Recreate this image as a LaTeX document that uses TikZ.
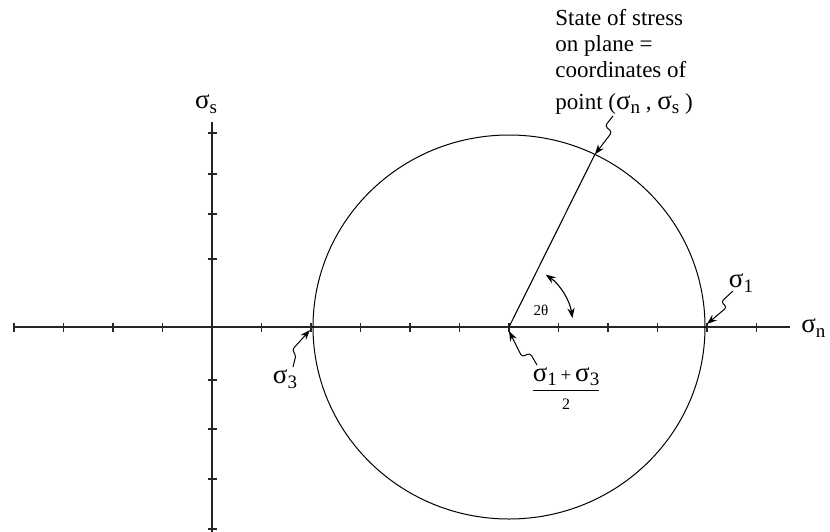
\documentclass[tikz,border=0pt]{standalone}
\usepackage{fontspec}
\setmainfont{Liberation Serif}
\usetikzlibrary{arrows.meta}
\newcommand{\sgm}{{\fontsize{13.5}{13.5}\selectfont σ}}
\newcommand{\sg}[1]{\sgm\raisebox{-0.45ex}{\fontsize{9.5}{9.5}\selectfont #1}}
\begin{document}
\begin{tikzpicture}[x=0.5pt,y=-0.5pt,
  axisline/.style={line width=0.65pt,black!85},
  tickmark/.style={line width=0.65pt,black!85},
  circ/.style={line width=0.5pt},
  leader/.style={line width=0.5pt,rounded corners=1.5pt,-{Stealth[length=5pt,width=3.6pt]}},
  lbl/.style={inner sep=0pt,font=\fontsize{11.5}{13.5}\selectfont},
  small/.style={inner sep=0pt,font=\fontsize{7.5}{8}\selectfont}]
\useasboundingbox (0,0) rectangle (830,531);
% axes
\draw[axisline] (14,327) -- (790,327);
\draw[axisline] (212,122) -- (212,535);
\foreach \k in {-4,-3,-2,-1,1,2,3,4,5,6,7,8,9,10,11}
  \draw[tickmark] ({212+49.5*\k},322.5) -- ({212+49.5*\k},331.5);
\foreach \yy in {133,174,214,259,380,429,479,529}
  \draw[tickmark] (207.5,\yy) -- (216.5,\yy);
% circle
\coordinate (c) at (509,327);
\draw[circ] (c) ellipse [x radius=98pt, y radius=96pt];
\coordinate (p) at (594.9,154.4);
\draw[line width=0.55pt] (c) -- (p);
% 2theta arc
\draw[line width=0.55pt,{Stealth[length=5pt,width=3.6pt]}-{Stealth[length=5pt,width=3.6pt]}]
  ([shift={(55:32pt)}]c) arc[start angle=55,end angle=8,radius=32pt];
\node[small] (th) at (541,310) {2θ};
% labels
\node[lbl] (ss) at (206,104) {\sg{s}};
\node[lbl,anchor=west] (sn) at (801,328) {\sg{n}};
\node[lbl] (s1) at (741,283) {\sg{1}};
\node[lbl] (s3) at (285,379) {\sg{3}};
\node[lbl] (fr) at (566,390) {\begin{tabular}{@{}c@{}}\sg{1}\,{\fontsize{9.5}{9.5}\selectfont +}\,\sg{3}\\[0.5pt]\hline\rule{0pt}{8.5pt}{\fontsize{8}{8}\selectfont 2}\end{tabular}};
% text block
\node[lbl,anchor=base west] (t1) at (555,25) {State of stress};
\node[lbl,anchor=base west] (t2) at (555,51) {on plane =};
\node[lbl,anchor=base west] (t3) at (555,77) {coordinates of};
\node[lbl,anchor=base west] (t4) at (555,109) {point (\sg{n} , \sg{s} )};
% leaders
\coordinate (a1) at (613,116);
\draw[leader] (a1) -- (605,126) -- (612,132) -- (p);
\coordinate (a2) at (733,291);
\coordinate (q1) at (707,324);
\draw[leader] (a2) -- (721,302) -- (727,307) -- (q1);
\coordinate (a3) at (293,367);
\coordinate (q3) at (310,330);
\draw[leader] (a3) -- (296,355) -- (292,350) -- (q3);
\coordinate (a4) at (537,365);
\coordinate (q4) at (509,331);
\draw[leader] (a4) -- (530,353) -- (522,357) -- (q4);
\end{tikzpicture}
\end{document}
